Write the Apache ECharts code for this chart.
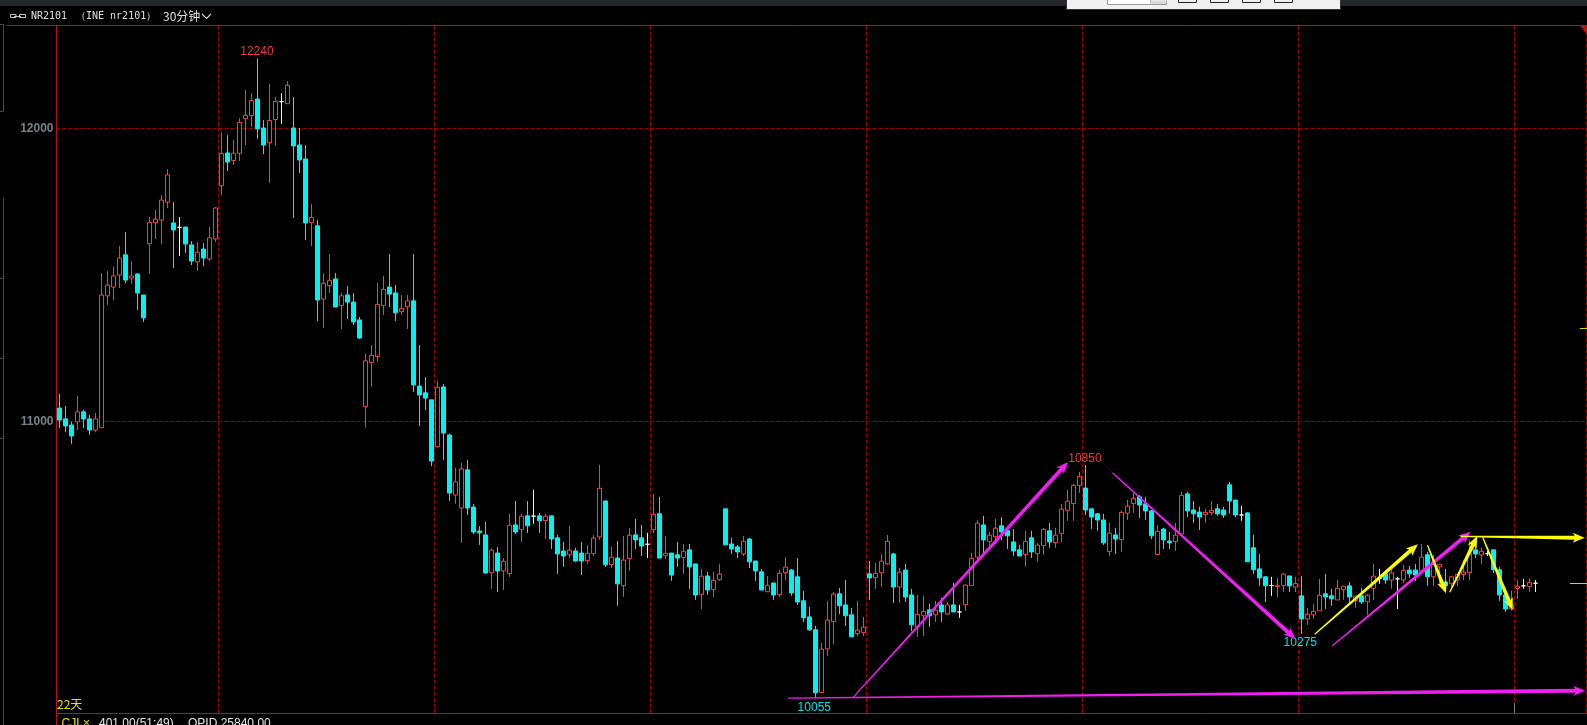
<!DOCTYPE html>
<html>
<head>
<meta charset="utf-8">
<title>NR2101 30分钟</title>
<style>
  html, body { margin: 0; padding: 0; background: #000; }
  #chart { width: 1587px; height: 725px; }
</style>
<script src="https://cdn.jsdelivr.net/npm/echarts@6/dist/echarts.min.js"></script>
</head>
<body>
<div id="chart"></div>
<script>
// 30 minute bars
const opens = [
  11045,11008,10987,10998,11032,11008,10970,10978,11428,11458,
  11499,11568,11489,11503,11431,11606,11678,11687,11748,11677,
  11662,11663,11602,11544,11588,11554,11622,11804,11916,11890,
  11915,12033,12043,12100,12001,11951,12030,12091,12084,12001,
  11943,11895,11678,11667,11417,11463,11486,11395,11431,11407,
  11346,11050,11200,11221,11395,11458,11438,11374,11391,11411,
  11120,11097,11073,10913,11117,10953,10748,10704,10834,10707,
  10625,10612,10483,10550,10489,10480,10646,10630,10677,10676,
  10677,10661,10677,10602,10557,10544,10557,10550,10524,10548,
  10605,10728,10511,10533,10439,10531,10612,10602,10580,10630,
  10684,10541,10550,10544,10535,10561,10513,10408,10472,10425,
  10459,10701,10581,10571,10547,10598,10523,10486,10418,10448,
  10408,10483,10492,10469,10387,10332,10288,10074,10223,10316,
  10411,10373,10339,10275,10279,10479,10466,10483,10513,10547,
  10434,10492,10407,10298,10336,10356,10339,10373,10342,10373,
  10349,10374,10439,10536,10646,10589,10606,10643,10626,10588,
  10561,10545,10602,10548,10576,10626,10586,10617,10696,10719,
  10781,10772,10701,10684,10663,10555,10612,10596,10686,10719,
  10742,10718,10694,10545,10632,10591,10589,10615,10752,10697,
  10690,10681,10688,10701,10697,10783,10731,10680,10687,10568,
  10496,10469,10439,10436,10439,10472,10434,10404,10325,10339,
  10353,10411,10404,10390,10425,10438,10388,10404,10384,10430,
  10464,10479,10458,10462,10458,10492,10492,10489,10544,10469,
  10503,10451,10447,10458,10477,10483,10561,10544,10548,10561,
  10493,10407,10359,10429,10438,10436,10447
];
const closes = [
  11004,10984,10950,11032,11008,10970,11008,11431,11465,11496,
  11557,11482,11496,11438,11353,11679,11690,11755,11841,11653,
  11662,11605,11547,11577,11557,11626,11728,11914,11885,11915,
  12020,12044,12095,11998,11943,12027,12092,12091,12147,11940,
  11892,11677,11696,11414,11471,11481,11390,11428,11407,11339,
  11284,11206,11225,11399,11450,11434,11370,11385,11411,11124,
  11090,11079,10864,11116,10960,10755,10793,10837,10704,10622,
  10619,10482,10560,10489,10522,10645,10622,10676,10643,10676,
  10660,10676,10598,10547,10540,10560,10523,10523,10549,10601,
  10771,10510,10536,10445,10526,10611,10595,10574,10580,10682,
  10533,10549,10475,10533,10556,10503,10407,10471,10424,10457,
  10478,10578,10564,10554,10590,10520,10489,10424,10440,10407,
  10481,10502,10414,10383,10329,10288,10073,10222,10321,10410,
  10370,10336,10264,10287,10297,10465,10481,10522,10590,10434,
  10485,10400,10305,10341,10351,10336,10355,10349,10373,10349,
  10349,10441,10532,10652,10595,10611,10635,10622,10609,10557,
  10540,10590,10554,10577,10631,10588,10611,10700,10727,10781,
  10812,10697,10673,10663,10585,10618,10598,10689,10710,10737,
  10714,10694,10609,10624,10595,10585,10611,10747,10694,10684,
  10673,10689,10696,10684,10680,10728,10680,10680,10520,10493,
  10465,10438,10439,10440,10478,10438,10446,10325,10341,10351,
  10406,10400,10394,10430,10437,10400,10403,10383,10406,10471,
  10464,10458,10482,10462,10491,10479,10475,10536,10469,10510,
  10512,10438,10469,10478,10485,10549,10547,10556,10548,10493,
  10407,10359,10372,10437,10438,10450,10447
];
const lows = [
  10977,10963,10923,10970,10977,10953,10963,10978,11397,11414,
  11455,11472,11469,11380,11339,11504,11622,11605,11728,11523,
  11564,11574,11533,11513,11530,11547,11612,11772,11854,11875,
  11888,11943,12004,11964,11912,11813,11940,12015,12084,11694,
  11847,11619,11598,11342,11318,11438,11390,11315,11349,11329,
  11281,10978,11118,11203,11363,11390,11342,11363,11315,11100,
  10984,11038,10847,10910,10868,10728,10718,10585,10680,10615,
  10578,10479,10428,10417,10424,10469,10615,10588,10619,10650,
  10619,10598,10564,10479,10503,10533,10520,10475,10513,10540,
  10595,10503,10499,10370,10400,10489,10564,10540,10533,10619,
  10533,10530,10455,10503,10479,10428,10390,10359,10407,10400,
  10455,10578,10547,10533,10540,10499,10455,10424,10418,10390,
  10400,10458,10404,10373,10315,10284,10055,10074,10199,10240,
  10342,10301,10264,10267,10267,10390,10428,10434,10510,10380,
  10380,10383,10284,10264,10267,10298,10315,10315,10339,10349,
  10329,10353,10439,10527,10547,10571,10581,10595,10564,10540,
  10540,10503,10533,10520,10544,10568,10568,10588,10660,10660,
  10755,10680,10632,10626,10578,10540,10547,10554,10663,10687,
  10670,10663,10598,10544,10564,10564,10557,10615,10673,10653,
  10629,10653,10680,10677,10670,10684,10673,10660,10520,10479,
  10438,10383,10404,10400,10417,10417,10417,10274,10305,10325,
  10353,10359,10370,10390,10390,10377,10363,10377,10339,10390,
  10445,10445,10428,10359,10448,10465,10455,10489,10438,10438,
  10438,10417,10428,10436,10458,10458,10533,10513,10540,10482,
  10387,10349,10353,10394,10428,10417,10417
];
const highs = [
  11093,11052,10998,11086,11039,11021,11028,11506,11513,11527,
  11598,11646,11547,11506,11431,11697,11721,11772,11861,11748,
  11697,11663,11615,11612,11608,11663,11731,11987,11977,11960,
  12035,12131,12120,12239,12028,12151,12107,12120,12161,12107,
  12001,11943,11742,11687,11506,11571,11506,11438,11461,11438,
  11356,11232,11260,11472,11496,11571,11465,11431,11431,11571,
  11260,11151,11073,11137,11127,10957,10841,10858,10868,10718,
  10642,10656,10566,10571,10533,10684,10728,10684,10728,10766,
  10687,10684,10677,10612,10588,10643,10568,10588,10578,10612,
  10851,10728,10571,10591,10608,10636,10667,10646,10619,10752,
  10742,10608,10550,10588,10581,10581,10513,10496,10486,10486,
  10513,10701,10602,10578,10608,10602,10523,10496,10472,10448,
  10493,10537,10496,10533,10421,10366,10301,10243,10387,10417,
  10431,10458,10363,10387,10332,10523,10516,10547,10612,10551,
  10499,10513,10428,10407,10404,10377,10387,10397,10383,10448,
  10373,10441,10551,10663,10677,10622,10667,10673,10632,10632,
  10578,10626,10626,10585,10636,10653,10636,10718,10766,10786,
  10827,10851,10701,10687,10684,10653,10636,10694,10731,10755,
  10748,10742,10697,10646,10636,10622,10653,10759,10759,10728,
  10708,10701,10728,10718,10708,10793,10731,10711,10690,10612,
  10547,10469,10469,10465,10482,10472,10469,10472,10363,10377,
  10462,10479,10428,10458,10438,10451,10403,10431,10410,10513,
  10496,10489,10493,10469,10510,10506,10513,10581,10554,10544,
  10513,10496,10472,10479,10527,10595,10595,10568,10557,10561,
  10503,10428,10421,10458,10462,10462,10458
];

// price axis
const priceTicks = [11000, 12000];
const priceMin = 10004;
const priceMax = 12351;

// bar slots on the time axis (empty ones on the right), session line every 36 bars
const slotCount = 255;
const firstSession = 27;
const sessionStep = 36;

// drawn arrows: [from bar, from price, to bar, to price]
const pinkArrows = [
  [121.45, 10055, 254.3, 10080],
  [132.3, 10058, 168.1, 10861],
  [175.5, 10824, 206, 10257],
  [212.1, 10233, 235.2, 10623]
];
const yellowArrows = [
  [209.2, 10273, 226.4, 10580],
  [228, 10577, 231.1, 10413],
  [231.7, 10416, 236.3, 10608],
  [233.5, 10607, 254.2, 10602],
  [237.2, 10604, 242.2, 10356]
];

// high / low notes: [bar, price position, text]
const redNotes = [[32.9, 12260, '12240'], [170.9, 10872, '10850']];
const cyanNotes = [[125.8, 10022, '10055'], [206.8, 10244, '10275']];

const categories = [];
for (let i = 0; i < slotCount; i++) categories.push(String(i));

const bars = opens.map((o, i) => [o, closes[i], lows[i], highs[i]]);

const RED = '#ff3c3c';
const CYAN = '#00f2f2';
const FRAME = '#b81414';
const DASH = '#a00000';

function arrowItem(color) {
  return function (params, api) {
    const a = api.coord([api.value(0), api.value(1)]);
    const b = api.coord([api.value(2), api.value(3)]);
    const dx = b[0] - a[0];
    const dy = b[1] - a[1];
    const len = Math.sqrt(dx * dx + dy * dy);
    const ux = dx / len;
    const uy = dy / len;
    const nx = -uy;
    const ny = ux;
    // thin tail getting fatter towards the head
    const w0 = 0.6;
    const w1 = 2;
    const headLen = 10;
    const headW = 5;
    const nx0 = b[0] - ux * headLen;
    const ny0 = b[1] - uy * headLen;
    return {
      type: 'polygon',
      shape: {
        points: [
          [a[0] + nx * w0, a[1] + ny * w0],
          [nx0 + nx * w1, ny0 + ny * w1],
          [nx0 + nx * headW - ux * 2, ny0 + ny * headW - uy * 2],
          [b[0], b[1]],
          [nx0 - nx * headW - ux * 2, ny0 - ny * headW - uy * 2],
          [nx0 - nx * w1, ny0 - ny * w1],
          [a[0] - nx * w0, a[1] - ny * w0]
        ]
      },
      style: { fill: color }
    };
  };
}

function noteItem(color) {
  return function (params, api) {
    const p = api.coord([api.value(0), api.value(1)]);
    return {
      type: 'text',
      x: p[0],
      y: p[1],
      style: {
        text: String(api.value(2)),
        fill: color,
        font: '12px "Liberation Sans"',
        align: 'center',
        verticalAlign: 'middle'
      }
    };
  };
}

function overlay(name, renderItem, data, z) {
  return {
    name: name,
    type: 'custom',
    xAxisIndex: 1,
    yAxisIndex: 0,
    coordinateSystem: 'cartesian2d',
    renderItem: renderItem,
    data: data,
    clip: false,
    silent: true,
    z: z,
    encode: { x: 0, y: 1 }
  };
}

function hLine(x1, x2, y, color) {
  return { type: 'line', silent: true, z: 20, shape: { x1: x1, y1: y, x2: x2, y2: y }, style: { stroke: color, lineWidth: 1 } };
}
function vLine(x, y1, y2, color) {
  return { type: 'line', silent: true, z: 20, shape: { x1: x, y1: y1, x2: x, y2: y2 }, style: { stroke: color, lineWidth: 1 } };
}
function label(text, x, y, color, font) {
  return { type: 'text', silent: true, z: 21, x: x, y: y, style: { text: text, fill: color, font: font, verticalAlign: 'middle' } };
}
function box(x, y, w, h, fill, stroke) {
  return { type: 'rect', silent: true, z: 22, shape: { x: x, y: y, width: w, height: h }, style: { fill: fill, stroke: stroke, lineWidth: 1 } };
}

const chrome = [
  // window bar and the little dialog hanging over it
  { type: 'rect', silent: true, z: 19, shape: { x: 0, y: 0, width: 1587, height: 6 }, style: { fill: '#24282d' } },
  box(1066.5, -2, 274, 11.5, '#f0f0f0', '#333333'),
  box(1107.5, -2, 59, 6.5, '#ffffff', '#999999'),
  box(1150.5, -2, 16, 5, '#e4e4e4', '#bbbbbb'),
  box(1178.5, -2, 18, 4.5, '#f0f0f0', '#222222'),
  box(1210.5, -2, 18, 4.5, '#f0f0f0', '#222222'),
  box(1242.5, -2, 18, 4.5, '#f0f0f0', '#222222'),
  box(1274.5, -2, 18, 4.5, '#f0f0f0', '#222222'),
  // frame
  hLine(6, 1587, 25.5, FRAME),
  vLine(56.5, 25, 725, FRAME),
  hLine(56.5, 1587, 713.5, FRAME),
  { type: 'polygon', silent: true, z: 20, shape: { points: [[1580, 25], [1587, 25], [1587, 35]] }, style: { fill: FRAME } },
  // docked panel edges on the far left
  hLine(0, 3.5, 24.5, '#4a4a4a'),
  vLine(3.5, 24, 111, '#4a4a4a'),
  hLine(0, 3.5, 111.5, '#4a4a4a'),
  vLine(3.5, 198, 725, '#4a4a4a'),
  hLine(0, 3.5, 278.5, '#4a4a4a'),
  hLine(0, 3.5, 358.5, '#4a4a4a'),
  hLine(0, 3.5, 438.5, '#4a4a4a'),
  // title line
  box(10.5, 14.5, 5.5, 3, 'transparent', '#c4c4c4'),
  box(19.5, 14.5, 6, 3, 'transparent', '#c4c4c4'),
  hLine(14, 21, 16.5, '#c4c4c4'),
  label('NR2101', 31, 16.5, '#e0e0e0', '10px "DejaVu Sans Mono"'),
  label('（INE nr2101）', 76, 16.5, '#e0e0e0', '10px "DejaVu Sans Mono"'),
  label('30分钟', 163, 16.5, '#e0e0e0', '12px "Noto Sans CJK SC"'),
  { type: 'polyline', silent: true, z: 21, shape: { points: [[202, 14], [206.5, 18.5], [211, 14]] }, style: { stroke: '#d2d2d2', fill: 'none', lineWidth: 1.2 } },
  // bottom left notes
  label('22天', 57, 704, '#e6e600', '12px "Noto Sans CJK SC"'),
  label('CJL', 61.5, 724, '#e6e600', '12px "Liberation Sans"'),
  label('×', 83, 724, '#e6e600', '12px "Liberation Sans"'),
  label('401.00(51:49)', 99, 724, '#e8e8e8', '12px "Liberation Sans"'),
  label('OPID 25840.00', 188, 724, '#e8e8e8', '12px "Liberation Sans"'),
  // right edge ticks
  hLine(1580, 1587, 328.5, '#d8d800'),
  hLine(1570, 1587, 583.5, '#d8d800'),
  vLine(1514.5, 703, 713, '#808080')
];

const option = {
  animation: false,
  backgroundColor: '#000',
  grid: { left: 56.5, top: 25.5, width: 1530, height: 687.5, containLabel: false },
  xAxis: [
    {
      type: 'category',
      data: categories,
      boundaryGap: true,
      axisLine: { show: false },
      axisTick: { show: false },
      axisLabel: { show: false },
      splitLine: {
        show: true,
        interval: index => index >= firstSession && (index - firstSession) % sessionStep === 0,
        lineStyle: { color: DASH, type: [4, 2], width: 1 }
      }
    },
    // same width as the bars, used for the hand drawn arrows and notes
    { type: 'value', min: -0.5, max: slotCount - 0.5, show: false, splitLine: { show: false } }
  ],
  yAxis: {
    type: 'value',
    min: priceMin,
    max: priceMax,
    axisLine: { show: false },
    axisTick: { show: false, customValues: priceTicks },
    axisLabel: {
      customValues: priceTicks,
      formatter: value => String(value),
      margin: 3,
      padding: [2, 0, 0, 0],
      color: '#78808a',
      fontFamily: 'Liberation Sans',
      fontWeight: 'bold',
      fontSize: 12
    },
    splitLine: { show: true, lineStyle: { color: DASH, type: [4, 2], width: 1 } }
  },
  series: [
    {
      type: 'candlestick',
      data: bars,
      barWidth: 4,
      silent: true,
      z: 3,
      itemStyle: {
        color: '#000',
        color0: CYAN,
        borderColor: RED,
        borderColor0: CYAN,
        borderColorDoji: '#f2f2f2',
        borderWidth: 1
      }
    },
    overlay('pink arrows', arrowItem('#f01ef0'), pinkArrows, 5),
    overlay('yellow arrows', arrowItem('#ffff00'), yellowArrows, 6),
    overlay('red notes', noteItem('#f03c3c'), redNotes, 4),
    overlay('cyan notes', noteItem('#00e6e6'), cyanNotes, 4)
  ],
  graphic: { elements: chrome }
};

const chart = echarts.init(document.getElementById('chart'), null, { renderer: 'canvas' });
chart.setOption(option);
</script>
</body>
</html>
